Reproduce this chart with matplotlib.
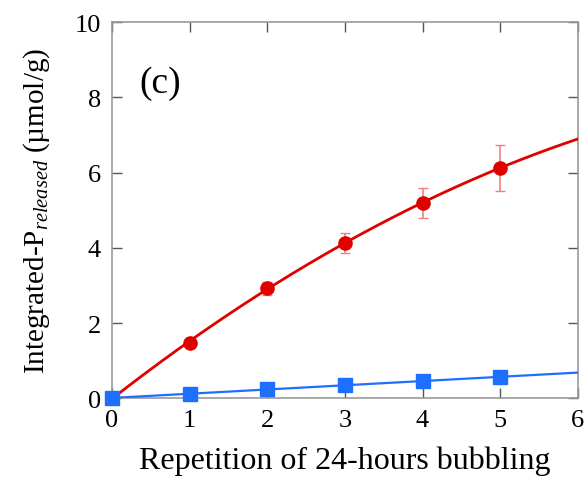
import numpy as np
import matplotlib
matplotlib.use("Agg")
import matplotlib.pyplot as plt

plt.rcParams["font.family"] = "Liberation Serif"
plt.rcParams["mathtext.fontset"] = "custom"
plt.rcParams["mathtext.rm"] = "Liberation Serif"
plt.rcParams["mathtext.it"] = "Liberation Serif:italic"

reps = [0, 1, 2, 3, 4, 5]
red_vals = [0.0, 1.48, 2.92, 4.13, 5.20, 6.12]
red_err = [0.0, 0.05, 0.18, 0.27, 0.40, 0.60]
blue_vals = [0.0, 0.12, 0.24, 0.35, 0.46, 0.56]

xs = np.linspace(0, 6, 200)
red_fit = np.polyval(np.polyfit(reps, red_vals, 2), xs)
blue_fit = np.polyval(np.polyfit(reps, blue_vals, 1), xs)

fig = plt.figure(figsize=(5.86, 4.81), dpi=100)
ax = fig.add_axes([0.191, 0.170, 0.795, 0.782])

ax.plot(xs, red_fit, color="#e00000", lw=2, zorder=3)
ax.errorbar(reps, red_vals, yerr=red_err, fmt="none", ecolor="#f08080",
            elinewidth=1.2, capsize=3.5, zorder=2)
ax.plot(reps, red_vals, "o", color="#e00000", ms=9.5, zorder=4, clip_on=False)

ax.plot(xs, blue_fit, color="#1f6fff", lw=1.6, zorder=3)
ax.plot(reps, blue_vals, "s", color="#1f6fff", ms=9.5, zorder=4, clip_on=False)

ax.set_xlim(0, 6)
ax.set_ylim(0, 10)
ax.set_xticks(range(0, 7))
ax.set_yticks(range(0, 11, 2))
ax.tick_params(direction="in", top=True, right=True, length=7, width=1,
               labelsize=19, color="#555555", pad=8)
for s in ax.spines.values():
    s.set_color("#999999")
    s.set_linewidth(1.2)

ax.text(0.62, 8.4, "(c)", fontsize=27, va="center", ha="center")
ax.set_xlabel("Repetition of 24-hours bubbling", fontsize=23, labelpad=10)
ax.set_ylabel("Integrated-P$_{\\mathit{released}}$ (µmol/g)", fontsize=21, labelpad=16)

fig.savefig("out.png", dpi=100)
